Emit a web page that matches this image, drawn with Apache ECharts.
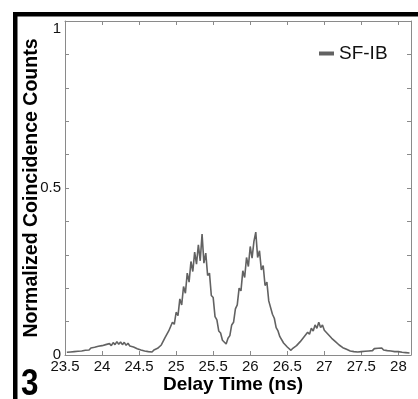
<!DOCTYPE html>
<html>
<head>
<meta charset="utf-8">
<script src="https://cdn.jsdelivr.net/npm/echarts@6/dist/echarts.min.js"></script>
<style>html,body{margin:0;padding:0;background:#fff;}#c{width:418px;height:399px;}</style>
</head>
<body>
<div id="c"></div>
<script>
var seriesName = 'SF-IB';
var xTitle = 'Delay Time (ns)';
var yTitle = 'Normalized Coincidence Counts';
var panelLabel = '3';
var xTickLabels = ['23.5','24','24.5','25','25.5','26','26.5','27','27.5','28'];
var yTickLabels = ['0','0.5','1'];
var times = [
23.525,23.550,23.575,23.600,23.625,23.650,23.675,23.700,23.725,23.750,23.775,23.800,23.825,23.850,23.875,23.900,23.925,23.950,23.975,24.000,
24.025,24.050,24.075,24.100,24.125,24.150,24.175,24.200,24.225,24.250,24.275,24.300,24.325,24.350,24.375,24.400,24.425,24.450,24.475,24.500,
24.525,24.550,24.575,24.600,24.625,24.650,24.675,24.700,24.725,24.750,24.775,24.800,24.825,24.850,24.875,24.900,24.925,24.950,24.975,25.000,
25.025,25.050,25.075,25.100,25.125,25.150,25.175,25.200,25.225,25.250,25.275,25.300,25.325,25.350,25.375,25.400,25.425,25.450,25.475,25.500,
25.525,25.550,25.575,25.600,25.625,25.650,25.675,25.700,25.725,25.750,25.775,25.800,25.825,25.850,25.875,25.900,25.925,25.950,25.975,26.000,
26.025,26.050,26.075,26.100,26.125,26.150,26.175,26.200,26.225,26.250,26.275,26.300,26.325,26.350,26.375,26.400,26.425,26.450,26.475,26.500,
26.525,26.550,26.575,26.600,26.625,26.650,26.675,26.700,26.725,26.750,26.775,26.800,26.825,26.850,26.875,26.900,26.925,26.950,26.975,27.000,
27.025,27.050,27.075,27.100,27.125,27.150,27.175,27.200,27.225,27.250,27.275,27.300,27.325,27.350,27.375,27.400,27.425,27.450,27.475,27.500,
27.525,27.550,27.575,27.600,27.625,27.650,27.675,27.700,27.725,27.750,27.775,27.800,27.825,27.850,27.875,27.900,27.925,27.950,27.975,28.000,
28.025,28.050,28.075,28.100,28.125,28.150
];
var counts = [
0.008,0.012,0.009,0.013,0.010,0.014,0.011,0.015,0.012,0.017,0.014,0.019,0.015,0.021,0.017,0.023,0.019,0.026,0.021,0.028,
0.024,0.031,0.026,0.034,0.028,0.037,0.031,0.040,0.032,0.039,0.031,0.038,0.029,0.035,0.027,0.032,0.024,0.028,0.019,0.023,
0.015,0.019,0.012,0.016,0.010,0.014,0.009,0.015,0.012,0.020,0.018,0.030,0.034,0.052,0.048,0.072,0.070,0.098,0.092,0.128,
0.118,0.168,0.150,0.205,0.185,0.245,0.218,0.280,0.250,0.308,0.272,0.330,0.282,0.362,0.275,0.305,0.238,0.245,0.178,0.172,
0.115,0.105,0.072,0.066,0.044,0.042,0.033,0.050,0.058,0.090,0.098,0.138,0.150,0.200,0.192,0.252,0.232,0.292,0.265,0.325,
0.290,0.340,0.368,0.292,0.312,0.255,0.268,0.208,0.218,0.162,0.160,0.122,0.110,0.082,0.072,0.055,0.050,0.036,0.034,0.024,
0.022,0.014,0.020,0.018,0.028,0.026,0.040,0.036,0.054,0.050,0.068,0.062,0.080,0.072,0.090,0.080,0.098,0.082,0.090,0.074,
0.078,0.062,0.064,0.050,0.052,0.040,0.042,0.030,0.032,0.022,0.025,0.017,0.020,0.012,0.016,0.010,0.014,0.009,0.013,0.010,
0.014,0.011,0.016,0.012,0.017,0.013,0.019,0.014,0.020,0.015,0.021,0.015,0.019,0.013,0.018,0.012,0.016,0.010,0.015,0.010,
0.013,0.008,0.012,0.007,0.010,0.006
];

var data = times.map(function (t, i) { return [t, counts[i]]; });
var FONT = 'Liberation Sans, Arial, sans-serif';
var axisGray = '#8a8a8a';

function fmtX(v) {
  for (var i = 0; i < xTickLabels.length; i++) {
    if (Math.abs(parseFloat(xTickLabels[i]) - v) < 1e-6) return xTickLabels[i];
  }
  return '';
}
function fmtY(v) {
  for (var i = 0; i < yTickLabels.length; i++) {
    if (Math.abs(parseFloat(yTickLabels[i]) - v) < 1e-6) return yTickLabels[i];
  }
  return '';
}

var chart = echarts.init(document.getElementById('c'), null, {renderer: 'canvas'});
chart.setOption({
  animation: false,
  backgroundColor: '#fff',
  grid: {left: 65, right: 7, top: 21, bottom: 41, containLabel: false},
  legend: {
    data: [seriesName], left: 314, top: 39,
    icon: 'rect', itemWidth: 15, itemHeight: 4, itemGap: 4,
    textStyle: {fontFamily: FONT, fontSize: 19, color: '#111'}
  },
  xAxis: [{
    type: 'value', min: 23.5, max: 28.17, interval: 0.5,
    name: xTitle, nameLocation: 'middle', nameGap: 20, nameMoveOverlap: false,
    nameTextStyle: {fontFamily: FONT, fontSize: 19, fontWeight: 'bold', color: '#000', padding: [0, 10, 0, 0]},
    axisLine: {show: true, onZero: false, lineStyle: {color: axisGray, width: 1}},
    axisTick: {show: true, inside: true, length: 4, lineStyle: {color: axisGray}},
    axisLabel: {formatter: fmtX, fontFamily: FONT, fontSize: 15, color: '#111', margin: 4, showMaxLabel: false},
    splitLine: {show: false}
  }, {
    type: 'value', position: 'top', min: 23.5, max: 28.17, interval: 0.5,
    axisLine: {show: true, onZero: false, lineStyle: {color: axisGray, width: 1}},
    axisTick: {show: true, inside: true, length: 4, lineStyle: {color: axisGray}},
    axisLabel: {show: false}, splitLine: {show: false}
  }],
  yAxis: [{
    type: 'value', min: 0, max: 1, interval: 0.1,
    name: yTitle, nameLocation: 'middle', nameGap: 23, nameMoveOverlap: false,
    nameTextStyle: {fontFamily: FONT, fontSize: 19.5, fontWeight: 'bold', color: '#000'},
    axisLine: {show: true, onZero: false, lineStyle: {color: axisGray, width: 1}},
    axisTick: {show: true, inside: true, length: 4, lineStyle: {color: axisGray}},
    axisLabel: {formatter: fmtY, fontFamily: FONT, fontSize: 15, color: '#111', margin: 4,
      verticalAlignMaxLabel: 'top'},
    splitLine: {show: false}
  }, {
    type: 'value', position: 'right', min: 0, max: 1, interval: 0.1,
    axisLine: {show: true, onZero: false, lineStyle: {color: axisGray, width: 1}},
    axisTick: {show: true, inside: true, length: 4, lineStyle: {color: axisGray}},
    axisLabel: {show: false}, splitLine: {show: false}
  }],
  series: [{
    name: seriesName, type: 'line', data: data, showSymbol: false, symbol: 'none',
    xAxisIndex: 0, yAxisIndex: 0,
    lineStyle: {color: '#626262', width: 1.6}, itemStyle: {color: '#626262'}
  }],
  graphic: [
    {type: 'rect', shape: {x: 13, y: 12, width: 405, height: 4.5}, style: {fill: '#000'}, z: 100},
    {type: 'rect', shape: {x: 13, y: 12, width: 4.5, height: 387}, style: {fill: '#000'}, z: 100},
    {type: 'text', left: 21, top: 366, scaleX: 0.85, style: {text: panelLabel, font: 'bold 37px ' + FONT, fill: '#000'}, z: 100}
  ]
});
</script>
</body>
</html>
